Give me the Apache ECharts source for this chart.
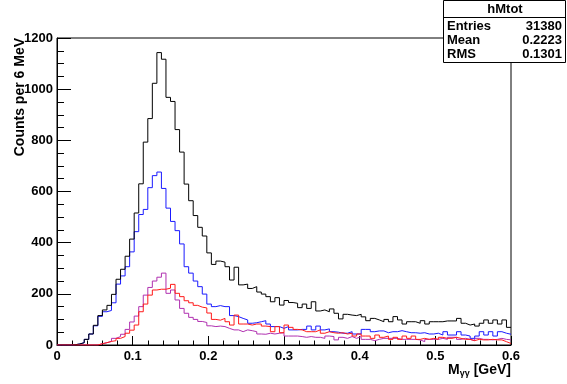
<!DOCTYPE html>
<html>
<head>
<meta charset="utf-8">
<script src="https://cdn.jsdelivr.net/npm/echarts@6/dist/echarts.min.js"></script>
<style>
html,body{margin:0;padding:0;background:#fff;}
#c{width:567px;height:384px;}
</style>
</head>
<body>
<div id="c"></div>
<script>
// Histogram: 100 bins of 6 MeV from 0 to 0.6 GeV
var binWidth = 0.006;
var xTicks = ['0', '0.1', '0.2', '0.3', '0.4', '0.5', '0.6'];
var yTicks = ['0', '200', '400', '600', '800', '1000', '1200'];

var blackVals = [
  0, 0, 0, 1, 4, 9, 22, 43, 77, 115,
  137, 155, 198, 257, 296, 347, 414, 516, 630, 793,
  885, 1023, 1143, 1117, 968, 952, 842, 754, 629, 564,
  506, 460, 426, 360, 315, 328, 324, 306, 254, 304,
  235, 238, 221, 228, 207, 199, 189, 169, 185, 156,
  174, 166, 163, 146, 160, 143, 169, 133, 137, 130,
  141, 124, 102, 120, 117, 115, 120, 110, 95, 104,
  98, 91, 100, 91, 111, 98, 82, 91, 91, 85,
  95, 82, 91, 91, 91, 94, 94, 94, 104, 85,
  78, 82, 74, 85, 98, 85, 98, 82, 98, 69
];
var blueVals = [
  0, 0, 0, 1, 4, 9, 22, 43, 75, 112,
  130, 135, 165, 238, 270, 306, 364, 443, 510, 530,
  615, 662, 676, 612, 535, 483, 447, 395, 306, 281,
  250, 228, 199, 160, 150, 154, 150, 150, 115, 111,
  104, 98, 85, 87, 91, 95, 82, 72, 72, 65,
  72, 59, 59, 61, 61, 74, 59, 74, 59, 63,
  52, 50, 46, 46, 52, 43, 43, 61, 61, 52,
  55, 55, 48, 52, 52, 56, 52, 48, 48, 46,
  48, 43, 43, 46, 39, 52, 39, 39, 52, 39,
  35, 26, 35, 52, 39, 52, 35, 52, 46, 42
];
var redVals = [
  0, 0, 0, 0, 0, 0, 0, 0, 0, 5,
  9, 14, 17, 26, 33, 46, 58, 78, 130, 160,
  195, 215, 218, 218, 222, 237, 202, 189, 173, 165,
  155, 148, 145, 125, 100, 97, 104, 91, 78, 117,
  82, 82, 78, 82, 82, 74, 72, 52, 72, 48,
  78, 69, 61, 59, 52, 52, 52, 59, 46, 52,
  48, 46, 48, 43, 46, 35, 43, 35, 35, 26,
  39, 30, 35, 22, 30, 22, 35, 26, 35, 22,
  26, 22, 26, 22, 30, 26, 26, 30, 26, 22,
  22, 17, 22, 20, 20, 22, 20, 20, 13, 6
];
var magentaVals = [
  0, 0, 0, 0, 0, 0, 0, 0, 0, 5,
  9, 14, 26, 33, 42, 61, 90, 113, 150, 195,
  225, 250, 265, 281, 202, 215, 176, 143, 124, 108,
  100, 92, 88, 75, 72, 74, 72, 65, 59, 59,
  52, 59, 56, 52, 43, 42, 46, 43, 46, 48,
  35, 35, 35, 33, 30, 33, 30, 30, 26, 35,
  33, 20, 30, 26, 33, 26, 33, 22, 22, 17,
  22, 26, 26, 26, 26, 22, 22, 22, 22, 20,
  13, 22, 22, 22, 26, 22, 30, 30, 22, 26,
  22, 17, 26, 22, 22, 20, 22, 26, 22, 20
];

function toSteps(vals) {
  var out = [];
  for (var i = 0; i < vals.length; i++) out.push([+(i * binWidth).toFixed(4), vals[i]]);
  out.push([+(vals.length * binWidth).toFixed(4), vals[vals.length - 1]]);
  return out;
}

var FONT = '"Liberation Sans", Arial, Helvetica, sans-serif';
var chart = echarts.init(document.getElementById('c'), null, {renderer: 'canvas'});

function mkSeries(name, vals, color, z) {
  return {
    name: name, type: 'line', step: 'end', data: toSteps(vals),
    symbol: 'none', z: z,
    lineStyle: {color: color, width: 1},
    animation: false
  };
}

chart.setOption({
  animation: false,
  backgroundColor: '#fff',
  grid: {left: 57, right: 56, top: 38, bottom: 39, show: true, borderColor: '#000', borderWidth: 1, backgroundColor: '#fff'},
  xAxis: {
    type: 'value', min: 0, max: 0.6, interval: 0.1,
    axisLine: {show: true, onZero: false, lineStyle: {color: '#000', width: 1}},
    axisTick: {show: true, inside: true, length: 9, lineStyle: {color: '#000'}},
    minorTick: {show: true, splitNumber: 5, length: 4.5, lineStyle: {color: '#000'}},
    splitLine: {show: false},
    axisLabel: {
      color: '#000', fontFamily: FONT, fontWeight: 'bold', fontSize: 13, margin: 5,
      formatter: function (v) { return xTicks[Math.round(v * 10)]; }
    }
  },
  yAxis: {
    type: 'value', min: 0, max: 1200, interval: 200,
    axisLine: {show: true, lineStyle: {color: '#000', width: 1}},
    axisTick: {show: true, inside: true, length: 14, lineStyle: {color: '#000'}},
    minorTick: {show: true, splitNumber: 4, length: 7, lineStyle: {color: '#000'}},
    splitLine: {show: false},
    axisLabel: {
      color: '#000', fontFamily: FONT, fontWeight: 'bold', fontSize: 13, margin: 4,
      formatter: function (v) { return yTicks[Math.round(v / 200)]; }
    }
  },
  series: [
    mkSeries('all', blackVals, '#000000', 5),
    mkSeries('blue', blueVals, '#1a1aff', 4),
    mkSeries('magenta', magentaVals, '#b030b0', 3),
    mkSeries('red', redVals, '#ff1a1a', 6)
  ],
  graphic: [
    {
      type: 'text', x: 20, y: 38, rotation: Math.PI / 2,
      style: {text: 'Counts per 6 MeV', font: 'bold 14px ' + FONT, fill: '#000', textAlign: 'right', textVerticalAlign: 'middle'}
    },
    {
      type: 'text', x: 511, y: 370,
      style: {
        text: '{m|M}{s|γγ}{m| [GeV]}',
        rich: {
          m: {font: 'bold 14px ' + FONT, fill: '#000', verticalAlign: 'middle'},
          s: {font: 'bold 9px ' + FONT, fill: '#000', padding: [8, 0, 0, 0], verticalAlign: 'bottom'}
        },
        textAlign: 'right', textVerticalAlign: 'middle'
      }
    },
    {
      type: 'group', z: 100,
      children: [
        {type: 'rect', shape: {x: 443.5, y: 0.5, width: 122, height: 62}, style: {fill: '#fff', stroke: '#000', lineWidth: 1}},
        {type: 'line', shape: {x1: 443.5, y1: 17.5, x2: 565.5, y2: 17.5}, style: {stroke: '#000', lineWidth: 1}},
        {type: 'text', x: 505, y: 9, style: {text: 'hMtot', font: 'bold 13px ' + FONT, fill: '#000', textAlign: 'center', textVerticalAlign: 'middle'}},
        {type: 'text', x: 447, y: 26, style: {text: 'Entries', font: 'bold 13px ' + FONT, fill: '#000', textAlign: 'left', textVerticalAlign: 'middle'}},
        {type: 'text', x: 562, y: 26, style: {text: '31380', font: 'bold 13px ' + FONT, fill: '#000', textAlign: 'right', textVerticalAlign: 'middle'}},
        {type: 'text', x: 447, y: 40, style: {text: 'Mean', font: 'bold 13px ' + FONT, fill: '#000', textAlign: 'left', textVerticalAlign: 'middle'}},
        {type: 'text', x: 562, y: 40, style: {text: '0.2223', font: 'bold 13px ' + FONT, fill: '#000', textAlign: 'right', textVerticalAlign: 'middle'}},
        {type: 'text', x: 447, y: 54, style: {text: 'RMS', font: 'bold 13px ' + FONT, fill: '#000', textAlign: 'left', textVerticalAlign: 'middle'}},
        {type: 'text', x: 562, y: 54, style: {text: '0.1301', font: 'bold 13px ' + FONT, fill: '#000', textAlign: 'right', textVerticalAlign: 'middle'}}
      ]
    }
  ]
});
</script>
</body>
</html>
